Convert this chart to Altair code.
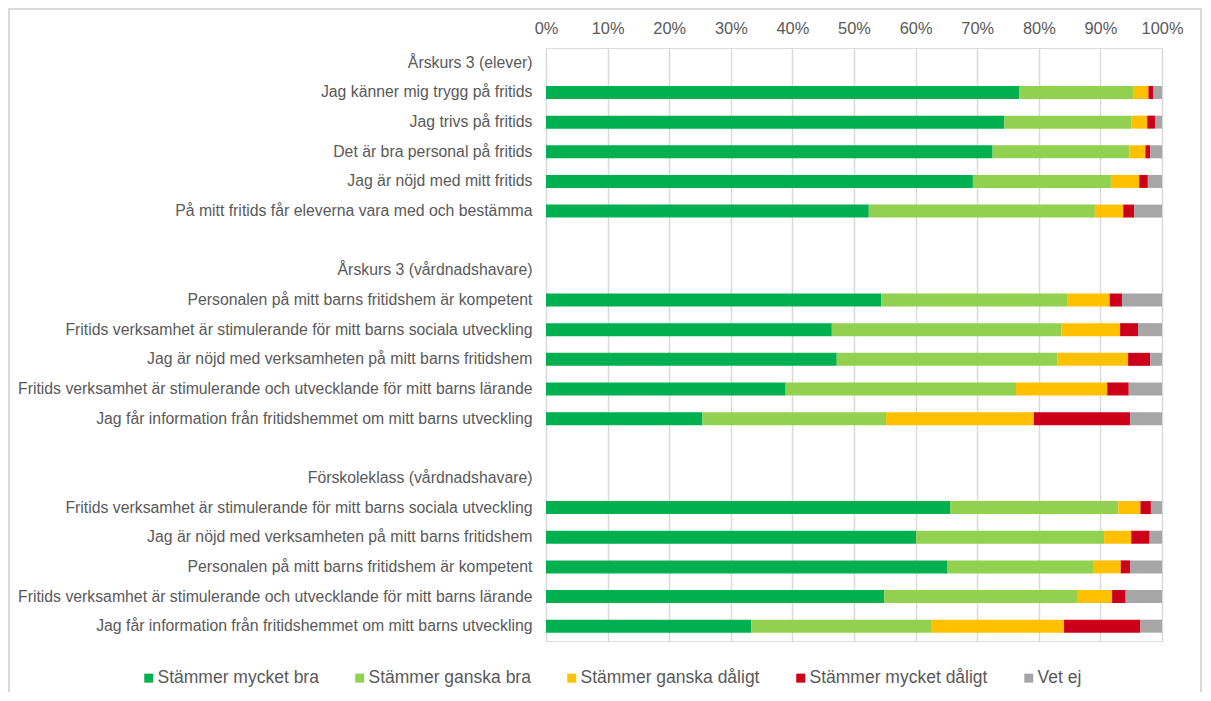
import altair as alt
import pandas as pd

# ---- data ----
responses = ["Stämmer mycket bra", "Stämmer ganska bra", "Stämmer ganska dåligt",
             "Stämmer mycket dåligt", "Vet ej"]
colors = ["#00B050", "#92D050", "#FFC000", "#CC0019", "#A6A6A6"]

group1_title = "Årskurs 3 (elever)"
group1_labels = [
    "Jag känner mig trygg på fritids",
    "Jag trivs på fritids",
    "Det är bra personal på fritids",
    "Jag är nöjd med mitt fritids",
    "På mitt fritids får eleverna vara med och bestämma",
]
group1_values = [
    [76.8, 18.5, 2.5, 0.8, 1.4],
    [74.4, 20.6, 2.6, 1.3, 1.1],
    [72.5, 22.2, 2.6, 0.8, 1.9],
    [69.3, 22.4, 4.6, 1.4, 2.3],
    [52.4, 36.7, 4.6, 1.8, 4.5],
]

group2_title = "Årskurs 3 (vårdnadshavare)"
group2_labels = [
    "Personalen på mitt barns fritidshem är kompetent",
    "Fritids verksamhet är stimulerande för mitt barns sociala utveckling",
    "Jag är nöjd med verksamheten på mitt barns fritidshem",
    "Fritids verksamhet är stimulerande och utvecklande för mitt barns lärande",
    "Jag får information från fritidshemmet om mitt barns utveckling",
]
group2_values = [
    [54.4, 30.3, 6.8, 2.0, 6.5],
    [46.4, 37.3, 9.5, 2.9, 3.9],
    [47.2, 35.8, 11.5, 3.6, 1.9],
    [38.9, 37.4, 14.8, 3.5, 5.4],
    [25.4, 29.8, 24.0, 15.6, 5.2],
]

group3_title = "Förskoleklass (vårdnadshavare)"
group3_labels = [
    "Fritids verksamhet är stimulerande för mitt barns sociala utveckling",
    "Jag är nöjd med verksamheten på mitt barns fritidshem",
    "Personalen på mitt barns fritidshem är kompetent",
    "Fritids verksamhet är stimulerande och utvecklande för mitt barns lärande",
    "Jag får information från fritidshemmet om mitt barns utveckling",
]
group3_values = [
    [65.6, 27.3, 3.6, 1.7, 1.8],
    [60.1, 30.5, 4.4, 3.0, 2.0],
    [65.1, 23.7, 4.5, 1.5, 5.2],
    [54.9, 31.3, 5.7, 2.2, 5.9],
    [33.3, 29.2, 21.6, 12.4, 3.5],
]

x_ticks = [0, 0.1, 0.2, 0.3, 0.4, 0.5, 0.6, 0.7, 0.8, 0.9, 1.0]

# ---- build table ----
groups = [
    (group1_title, group1_labels, group1_values),
    (group2_title, group2_labels, group2_values),
    (group3_title, group3_labels, group3_values),
]
row_keys = []
records = []
idx = 0
for gi, (title, labels, values) in enumerate(groups):
    if gi > 0:
        row_keys.append(f"{idx:02d}|")
        idx += 1
    row_keys.append(f"{idx:02d}|{title}")
    idx += 1
    for lab, vals in zip(labels, values):
        key = f"{idx:02d}|{lab}"
        row_keys.append(key)
        for ri, (resp, v) in enumerate(zip(responses, vals)):
            records.append({"row": key, "response": resp, "order": ri, "value": v / 100.0})
        idx += 1

df = pd.DataFrame(records)

FONT = "Liberation Sans"
TXT = "#595959"
GRID = "#D9D9D9"

n_rows = len(row_keys)
plot_h = 593
step = plot_h / n_rows
pin = 1 - 13 / step

bars = alt.Chart(df).mark_bar(size=13).encode(
    x=alt.X("value:Q", stack="zero",
            scale=alt.Scale(domain=[0, 1], nice=False, zero=True),
            axis=alt.Axis(orient="top", values=x_ticks, format=".0%", title=None,
                          ticks=False, domain=False, labelPadding=12, labelFlush=False,
                          labelFontSize=16.4, labelColor=TXT, labelFont=FONT,
                          grid=True, gridColor=GRID, gridWidth=1.5)),
    y=alt.Y("row:N", sort=row_keys,
            scale=alt.Scale(domain=row_keys, paddingInner=pin, paddingOuter=pin / 2),
            axis=alt.Axis(title=None, ticks=False, domain=False, grid=False,
                          labelExpr="split(datum.value, '|')[1]",
                          labelAlign="right", labelPadding=14, labelLimit=700,
                          labelFontSize=15.8, labelColor=TXT, labelFont=FONT)),
    color=alt.Color("response:N",
                    scale=alt.Scale(domain=responses, range=colors),
                    legend=alt.Legend(title=None, orient="none", direction="horizontal",
                                      columns=5, legendX=-406, legendY=621,
                                      symbolType="square", symbolSize=81,
                                      symbolStrokeWidth=0, labelOffset=0,
                                      columnPadding=32, labelFontSize=17.5,
                                      labelLimit=400,
                                      labelColor=TXT, labelFont=FONT)),
    order=alt.Order("order:Q", sort="ascending"),
    tooltip=["row:N", "response:N", alt.Tooltip("value:Q", format=".1%")],
)

border = alt.Chart(pd.DataFrame({"a": [0]})).mark_rect(
    fill=None, stroke=GRID, strokeWidth=2, clip=False
).encode(
    x=alt.value(-537), x2=alt.value(655), y=alt.value(-39), y2=alt.value(660)
)

chart = alt.layer(bars, border).properties(
    width=616, height=plot_h,
    autosize=alt.AutoSizeParams(type="none"),
    padding={"left": 538, "top": 40, "right": 40, "bottom": 51},
).configure_view(stroke=None).configure(background="white")

chart.save("out.html", embed_options={"renderer": "svg", "actions": False})
